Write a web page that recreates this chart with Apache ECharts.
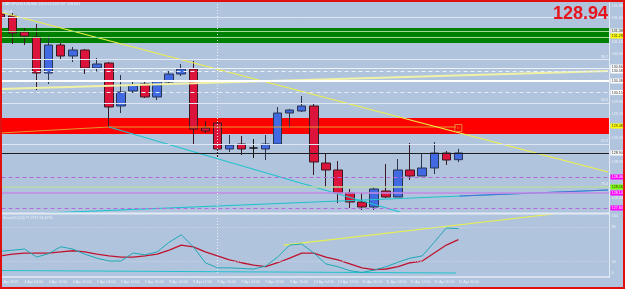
<!DOCTYPE html>
<html><head><meta charset="utf-8">
<script src="https://cdn.jsdelivr.net/npm/echarts@6/dist/echarts.min.js"></script>
<style>html,body{margin:0;padding:0;background:#b0c4de;}#c{width:625px;height:289px;}</style>
</head><body><div id="c"></div>
<script>
// ---------------- data ----------------
const symbolTitle = 'GBPJPY,H4 128.806 129.023 128.757 128.941';
const stochTitle = 'Stoch(10,3,3) 77.7971 58.4794';
const categories = ['3 Apr 20:00','4 Apr 00:00','4 Apr 04:00','4 Apr 08:00','4 Apr 12:00','4 Apr 16:00','4 Apr 20:00',
 '5 Apr 00:00','5 Apr 04:00','5 Apr 08:00','5 Apr 12:00','5 Apr 16:00','5 Apr 20:00',
 '8 Apr 00:00','8 Apr 04:00','8 Apr 08:00','8 Apr 12:00','8 Apr 16:00','8 Apr 20:00',
 '9 Apr 00:00','9 Apr 04:00','9 Apr 08:00','9 Apr 12:00','9 Apr 16:00','9 Apr 20:00',
 '10 Apr 00:00','10 Apr 04:00','10 Apr 08:00','10 Apr 12:00','10 Apr 16:00','10 Apr 20:00',
 '11 Apr 00:00','11 Apr 04:00','11 Apr 08:00','11 Apr 12:00','11 Apr 16:00','11 Apr 20:00',
 '12 Apr 00:00','12 Apr 04:00','12 Apr 08:00','12 Apr 12:00','12 Apr 16:00','12 Apr 20:00',
 '15 Apr 00:00','15 Apr 04:00','15 Apr 08:00','15 Apr 12:00','15 Apr 16:00','15 Apr 20:00',
 '16 Apr 00:00','16 Apr 04:00'];
const firstLabel = '3 Apr 2013';
// [open, close, low, high]
const candles = [
 [131.72,131.66,131.62,131.76],[131.68,131.34,131.12,131.74],[131.36,131.28,131.10,131.44],
 [131.26,130.54,130.20,131.52],[130.54,131.10,130.32,131.28],[131.10,130.88,130.80,131.14],
 [130.88,131.00,130.76,131.06],[131.00,130.64,130.52,131.02],[130.64,130.72,130.56,130.84],
 [130.74,129.86,129.46,130.76],[129.88,130.16,129.74,130.50],[130.18,130.30,130.14,130.40],
 [130.32,130.06,130.04,130.36],[130.06,130.38,130.00,130.40],[130.36,130.52,130.30,130.58],
 [130.52,130.62,130.48,130.72],[130.62,129.42,129.10,130.78],[129.44,129.38,129.34,129.58],
 [129.54,129.02,128.84,129.56],[129.02,129.10,128.96,129.30],[129.12,129.02,128.90,129.28],
 [129.04,129.04,128.84,129.22],[129.02,129.12,128.80,129.30],[129.12,129.74,129.12,129.86],
 [129.74,129.80,129.44,129.82],[129.78,129.88,129.76,130.08],[129.88,128.76,128.50,129.94],
 [128.74,128.60,128.26,128.94],[128.60,128.14,127.94,128.78],[128.14,127.96,127.84,128.22],
 [127.96,127.86,127.80,128.14],[127.86,128.22,127.80,128.26],[128.18,128.06,128.04,128.72],
 [128.06,128.60,128.06,128.82],[128.60,128.48,128.40,129.14],[128.48,128.64,128.48,128.92],
 [128.64,128.94,128.52,129.16],[128.94,128.80,128.70,128.98],[128.806,128.941,128.757,129.023]
];
const stochMain = [38,40,42,28,34,46,42,33,26,21,21,35,32,37,54,67,46,18,9,9,8,7,12,28,49,51,35,16,11,4,1,5,11,19,26,30,54,79,77.8];
const stochSignal = [30,33,35,35,35,37,39,37,33,30,28,28,30,33,40,49,46,37,30,23,18,14,11,18,26,35,35,28,23,16,9,6,7,11,18,21,35,49,58.5];
// trend lines: [bar index, price]
const yellowTrend = [[-0.04,131.76],[50.42,128.56]];
const paleYellowTrend = [[-0.04,130.22],[50.42,130.58]];
const cyanDownTrend = [[9,129.46],[33.16,127.76]];
const cyanUpTrend = [[3.69,127.74],[50.42,128.20]];
const blueUpTrend = [[38.1,128.08],[50.42,128.20]];
const orangeTrend = [[-0.04,129.34],[9,129.46],[37.8,129.46]];
const markerBox = [[38,129.44]];
const separatorBar = 18;
// zones [from, to]
const greenZone = [131.14,131.44];
const redZone = [129.32,129.64];
// horizontal levels
const levelPrices = [131.66,131.38,131.26,130.81,130.64,130.58,130.38,130.15,129.94,129.12,128.941,128.46,128.26,128.14,127.84];
const fibLevels = [[130.81,'38.2'],[129.94,'50.0'],[129.12,'61.8'],[128.26,'76.4']];
// price scale labels [price, text]
const scaleLabels = [[131.88,'131.880'],[131.64,'131.640'],[131.16,'131.160'],[130.92,'130.920'],[129.96,'129.960'],[129.72,'129.720'],[129.24,'129.240'],[128.76,'128.760'],[128.04,'128.040']];
const boxLabels = [[131.38,'131.380'],[131.28,'131.280'],[130.66,'130.660'],[130.58,'130.585'],[130.38,'130.380'],[130.15,'130.150'],[129.48,'129.480'],[128.941,'128.941'],[128.46,'128.460'],[128.26,'128.260'],[128.14,'128.140'],[127.84,'127.840']];
const stochLevels = [80,20];
const stochScale = [[100,'100'],[80,'80'],[20,'20'],[0,'0']];
const stochCyan = [[-0.04,4.4],[37.8,0]];
const stochYellow = [[23.5,49],[45.85,103.5]];

// ---------------- styles ----------------
const FONT = 'Liberation Sans';
const TXT = '#eef2f8';
const levelStyles = [
 {color:'#dfe6f2',width:1,type:'solid'},
 {color:'#9fdc9a',width:1,type:'solid'},
 {color:'#9fdc9a',width:1,type:'solid'},
 {color:'#e2e9f4',width:1,type:'solid'},
 {color:'#eef2f8',width:1,type:'solid'},
 {color:'#eef2f8',width:1,type:[4,3]},
 {color:'#ffffff',width:2,type:'solid'},
 {color:'#e6ecf5',width:1,type:[4,3]},
 {color:'#dfe6f2',width:1,type:'solid'},
 {color:'#dfe6f2',width:1,type:'solid'},
 {color:'#1e1e1e',width:1,type:'solid'},
 {color:'#b468dc',width:1,type:[4,3]},
 {color:'#b9d9a6',width:1.5,type:'solid'},
 {color:'#c48ae6',width:1.5,type:'solid'},
 {color:'#b468dc',width:1,type:[4,3]}
];
const boxStyles = [
 ['#e8f0e8','#333'],['#ffff00','#333'],['#ffffff','#333'],['#ffffff','#333'],['#ffffff','#333'],['#ffffff','#333'],
 ['#ffff00','#333'],['#ffffff','#222'],['#ff00ff','#fff'],['#7cfc00','#333'],['#ff00ff','#fff'],['#ff00ff','#fff']
];

const LEFT = -5.525, WIDTH = 614.5, N = categories.length;

function lbl(text, bg, fg) {
  return {show:true, position:'end', distance:1.5, formatter:text, fontSize:3.6, fontFamily:FONT,
    color:fg, backgroundColor:bg || 'transparent', padding:[0.6,1.2,0.4,1.2], lineHeight:4};
}
const hidden = {color:'rgba(0,0,0,0)', width:0.01};

const mainLines = levelPrices.map((p,i)=>({yAxis:p, lineStyle:levelStyles[i], label:{show:false}}));
const fibLines = fibLevels.map(f=>({yAxis:f[0], lineStyle:hidden,
  label:{show:true, position:'insideEndTop', distance:1, formatter:f[1], fontSize:3.6, fontFamily:FONT, color:TXT}}));
const scaleLines = scaleLabels.map(s=>({yAxis:s[0], lineStyle:hidden, label:lbl(s[1], null, TXT)}));
const boxLines = boxLabels.map((b,i)=>({yAxis:b[0], lineStyle:hidden, label:lbl(b[1], boxStyles[i][0], boxStyles[i][1])}));

const chart = echarts.init(document.getElementById('c'), null, {renderer:'canvas', width:625, height:289});
const lastClose = candles[candles.length-1][1];

chart.setOption({
  animation:false,
  backgroundColor:'#b0c4de',
  textStyle:{fontFamily:FONT},
  grid:[
    {left:LEFT, width:WIDTH, top:2, height:210, outerBoundsMode:'none', containLabel:false},
    {left:LEFT, width:WIDTH, top:216, height:57, outerBoundsMode:'none', containLabel:false}
  ],
  xAxis:[
    {type:'category', gridIndex:0, data:categories, boundaryGap:true, show:false},
    {type:'value', gridIndex:0, min:-0.5, max:N-0.5, show:false},
    {type:'category', gridIndex:1, data:categories, boundaryGap:true,
      axisLine:{show:false}, axisTick:{show:false}, splitLine:{show:false},
      axisLabel:{show:true, interval:function(i){return i%2===0 && i<=38;}, hideOverlap:false,
        formatter:function(v,i){return i===0?firstLabel:v;}, align:'left', fontSize:3.6, fontFamily:FONT,
        color:TXT, margin:7}},
    {type:'value', gridIndex:1, min:-0.5, max:N-0.5, show:false}
  ],
  yAxis:[
    {type:'value', gridIndex:0, min:127.76, max:131.96, show:false, splitLine:{show:false}},
    {type:'value', gridIndex:1, min:0, max:100, show:false, splitLine:{show:false}}
  ],
  series:[
    {type:'line', xAxisIndex:1, yAxisIndex:0, data:[], z:1, silent:true,
      markArea:{silent:true, data:[
        [{yAxis:greenZone[0], itemStyle:{color:'#008000'}},{yAxis:greenZone[1]}],
        [{yAxis:redZone[0], itemStyle:{color:'#ff0000'}},{yAxis:redZone[1]}]
      ]},
      markLine:{silent:true, symbol:['none','none'], data:mainLines.concat([{xAxis:separatorBar, lineStyle:{color:'#eef2f8',width:1,type:[1,2]}, label:{show:false}}])}
    },
    {type:'line', xAxisIndex:1, yAxisIndex:0, data:[], z:6, silent:true,
      markLine:{silent:true, symbol:['none','none'], data:fibLines.concat(scaleLines, boxLines)}
    },
    {type:'candlestick', xAxisIndex:0, yAxisIndex:0, data:candles, z:3, barWidth:9,
      itemStyle:{color:'#4169e1', color0:'#dc143c', borderColor:'#2b3550', borderColor0:'#3a1a22', borderColorDoji:'#111', borderWidth:1}},
    {type:'line', xAxisIndex:1, yAxisIndex:0, data:orangeTrend, symbol:'none', z:4, lineStyle:{color:'#e39a2c', width:1}},
    {type:'line', xAxisIndex:1, yAxisIndex:0, data:paleYellowTrend, symbol:'none', z:4, lineStyle:{color:'#f2f2a6', width:2}},
    {type:'line', xAxisIndex:1, yAxisIndex:0, data:yellowTrend, symbol:'none', z:4, lineStyle:{color:'#f0f046', width:1.2}},
    {type:'line', xAxisIndex:1, yAxisIndex:0, data:cyanDownTrend, symbol:'none', z:4, lineStyle:{color:'#22c2cc', width:1.2}},
    {type:'line', xAxisIndex:1, yAxisIndex:0, data:cyanUpTrend, symbol:'none', z:4, lineStyle:{color:'#22c2cc', width:1.2}},
    {type:'line', xAxisIndex:1, yAxisIndex:0, data:blueUpTrend, symbol:'none', z:4, lineStyle:{color:'#4a6fd8', width:1.2}},
    {type:'scatter', xAxisIndex:1, yAxisIndex:0, data:markerBox, symbol:'rect', symbolSize:7, z:5,
      itemStyle:{color:'rgba(0,0,0,0)', borderColor:'#e8a040', borderWidth:1},
      label:{show:true, position:'inside', formatter:'0', fontSize:4, color:'#e8a040'}},
    // oscillator
    {type:'line', xAxisIndex:3, yAxisIndex:1, data:[], z:1, silent:true,
      markLine:{silent:true, symbol:['none','none'], data:
        stochLevels.map(v=>({yAxis:v, lineStyle:{color:'#d4dbe6', width:1, type:[1,2]}, label:{show:false}}))
        .concat(stochScale.map(s=>({yAxis:s[0], lineStyle:hidden, label:lbl(s[1], null, TXT)})))
        .concat([{xAxis:separatorBar, lineStyle:{color:'#eef2f8',width:1,type:[1,2]}, label:{show:false}}])}
    },
    {type:'line', xAxisIndex:3, yAxisIndex:1, data:stochCyan, symbol:'none', z:3, clip:false, lineStyle:{color:'#22c2cc', width:1.2}},
    {type:'line', xAxisIndex:3, yAxisIndex:1, data:stochYellow, symbol:'none', z:3, clip:false, lineStyle:{color:'#e6f050', width:1.2}},
    {type:'line', xAxisIndex:2, yAxisIndex:1, data:stochSignal, symbol:'none', z:4, lineStyle:{color:'#c0142e', width:1.3}},
    {type:'line', xAxisIndex:2, yAxisIndex:1, data:stochMain, symbol:'none', z:5, lineStyle:{color:'#1fa9b3', width:1}}
  ],
  graphic:[
    {type:'line', silent:true, z:50, shape:{x1:0,y1:213.5,x2:609,y2:213.5}, style:{stroke:'#e4eaf3', lineWidth:2}},
    {type:'line', silent:true, z:50, shape:{x1:0,y1:277,x2:609,y2:277}, style:{stroke:'#e4eaf3', lineWidth:1.5}},
    {type:'line', silent:true, z:50, shape:{x1:609.5,y1:0,x2:609.5,y2:278}, style:{stroke:'#e4eaf3', lineWidth:1}},
    {type:'text', silent:true, z:60, left:3, top:2, style:{text:symbolTitle, fontSize:3.7, fontFamily:FONT, fill:TXT}},
    {type:'text', silent:true, z:60, left:3, top:10, style:{text:'161.8', fontSize:3.7, fontFamily:FONT, fill:TXT}},
    {type:'text', silent:true, z:60, left:3, top:215.5, style:{text:stochTitle, fontSize:3.6, fontFamily:FONT, fill:TXT}},
    {type:'text', silent:true, z:60, right:17, top:5, style:{text:lastClose.toFixed(2), fontSize:18, fontWeight:'bold', fontFamily:FONT, fill:'#e8141c'}},
    {type:'rect', silent:true, z:70, shape:{x:1,y:1,width:623,height:287}, style:{fill:'none', stroke:'#e01010', lineWidth:2}}
  ]
});
</script>
</body></html>
